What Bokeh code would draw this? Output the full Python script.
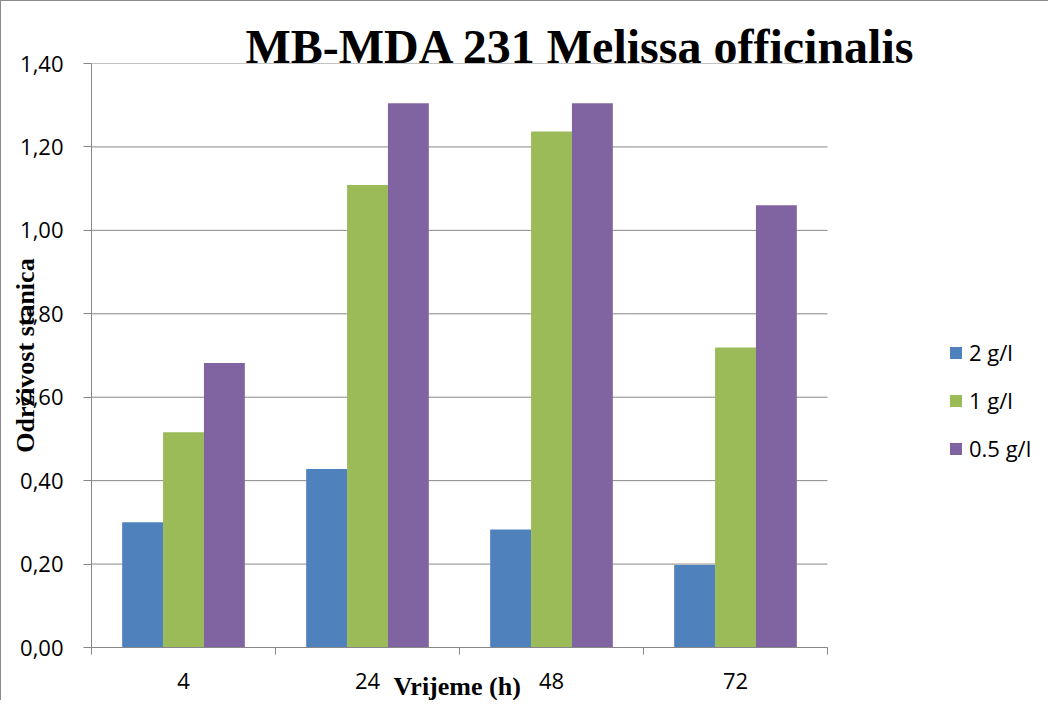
import numpy as np
from bokeh.plotting import figure
from bokeh.models import Range1d, FixedTicker, CustomJSTickFormatter, Title, Legend
from bokeh.embed import file_html
from bokeh.resources import INLINE

# ---- data ----
times = ["4", "24", "48", "72"]
series_names = ["2 g/l", "1 g/l", "0.5 g/l"]
vals_2 = [0.30, 0.428, 0.283, 0.198]
vals_1 = [0.516, 1.109, 1.237, 0.719]
vals_05 = [0.682, 1.305, 1.305, 1.060]
y_ticks = [0.0, 0.2, 0.4, 0.6, 0.8, 1.0, 1.2, 1.4]
title_text = "MB-MDA 231 Melissa officinalis"
x_title = "Vrijeme (h)"
y_title = "Održivost stanica"

colors = ["#4F81BD", "#9BBB59", "#8064A2"]
GRID = "#878787"
SANS = "Open Sans"
SERIF = "Liberation Serif"

W, H = 1048, 700
LEFT, TOP, BOTTOM = 90, 62, 54
CAT_PX = 184  # pixels per category on the x axis
n = len(times)
x_end = (W - LEFT) / CAT_PX  # frame runs to the right edge so the legend is inside it

p = figure(width=W, height=H, output_backend="svg", toolbar_location=None,
           x_range=Range1d(0, x_end), y_range=Range1d(0, 1.4),
           min_border_left=LEFT, min_border_right=0, min_border_top=TOP, min_border_bottom=BOTTOM)
p.outline_line_color = None
p.background_fill_color = "white"
p.border_fill_color = "white"
p.styles = {"border-left": "1px solid #8c8c8c", "border-top": "1px solid #8c8c8c"}

p.title = Title(text=title_text, align="left", offset=154, standoff=-19,
                text_font=SERIF, text_font_style="bold", text_font_size="48px",
                text_color="black")

# horizontal gridlines limited to the category area
p.segment(x0=[0] * len(y_ticks), x1=[n] * len(y_ticks), y0=y_ticks, y1=y_ticks,
          line_color=GRID, line_width=1)

bw = 1 / 4.5
base = np.arange(n) + 0.5
items = []
for k, (name, vals) in enumerate(zip(series_names, [vals_2, vals_1, vals_05])):
    r = p.vbar(x=base + (k - 1) * bw, top=vals, width=bw, bottom=0,
               fill_color=colors[k], line_color=None)
    items.append((name, [r]))

# x axis
xa = p.xaxis[0]
xa.bounds = (0, n)
xa.ticker = FixedTicker(ticks=list(base), minor_ticks=list(range(n + 1)))
xa.formatter = CustomJSTickFormatter(args=dict(cats=times), code="return cats[Math.floor(tick)];")
xa.major_tick_out = 0
xa.major_tick_in = 0
xa.minor_tick_out = 7
xa.minor_tick_in = 0
xa.minor_tick_line_color = GRID
xa.axis_line_color = GRID
xa.major_label_standoff = 18
xa.major_label_text_font = SANS
xa.major_label_text_font_size = "22px"
xa.major_label_text_color = "black"

# x axis title, centred under the category area (not the whole frame)
p.add_layout(Title(text=x_title, align="left", offset=302, vertical_align="top", standoff=-40,
                   text_font=SERIF, text_font_style="bold", text_font_size="26px",
                   text_color="black"), "below")

# y axis
ya = p.yaxis[0]
ya.ticker = FixedTicker(ticks=y_ticks, minor_ticks=[])
ya.formatter = CustomJSTickFormatter(code="return tick.toFixed(2).replace('.', ',');")
ya.major_tick_out = 8
ya.major_tick_in = 0
ya.major_tick_line_color = GRID
ya.axis_line_color = GRID
ya.minor_tick_line_color = None
ya.major_label_standoff = 20
ya.major_label_text_font = SANS
ya.major_label_text_font_size = "22px"
ya.major_label_text_color = "black"
ya.axis_label = y_title
ya.axis_label_standoff = -23
ya.axis_label_text_font = SERIF
ya.axis_label_text_font_style = "bold"
ya.axis_label_text_font_size = "26px"
ya.axis_label_text_color = "black"

p.xgrid.grid_line_color = None
p.ygrid.grid_line_color = None

lg = Legend(items=items, location=(857, 184))
lg.padding = 0
lg.margin = 0
lg.border_line_color = None
lg.background_fill_alpha = 0
lg.glyph_width = 15
lg.glyph_height = 15
lg.label_standoff = 6
lg.label_text_font = SANS
lg.label_text_font_size = "22px"
lg.label_text_color = "black"
lg.label_height = 30
lg.spacing = 18
p.add_layout(lg)

open("out.html", "w").write(file_html(p, INLINE))
